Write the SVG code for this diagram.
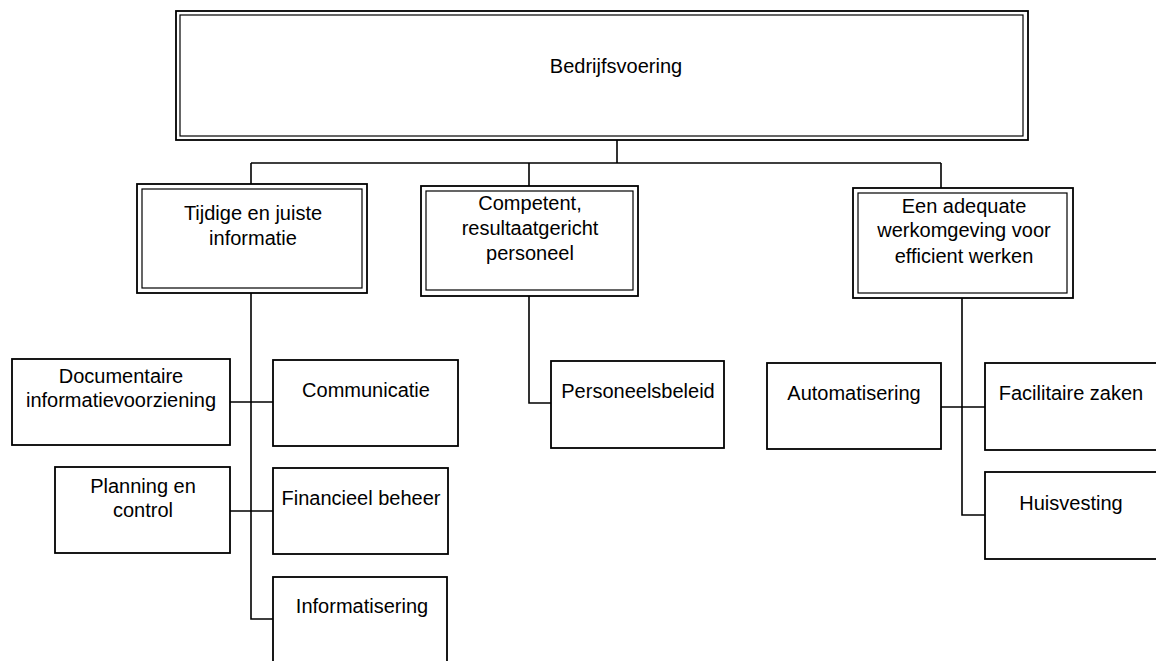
<svg xmlns="http://www.w3.org/2000/svg" width="1156" height="661" viewBox="0 0 1156 661">
<style>
.box{fill:#fff;stroke:#000;stroke-width:1.8}
.in{fill:none;stroke:#000;stroke-width:1.2}
.ln{fill:none;stroke:#000;stroke-width:1.6}
text{font-family:"Liberation Sans",Arial,sans-serif;font-size:20px;fill:#000;text-anchor:middle}
</style>
<rect width="1156" height="661" fill="#fff"/>
<g id="connectors">
<path class="ln" d="M617 140V163M251 163H941M251 163V184M529 163V186M941 163V188"/>
<path class="ln" d="M251 293V619H273M230 402H273M230 511H273"/>
<path class="ln" d="M529 296V403H551"/>
<path class="ln" d="M962 298V515H985M941 407H985"/>
</g>
<g id="bedrijfsvoering">
<rect class="box" x="176" y="11" width="852" height="129"/>
<rect class="in" x="180" y="15" width="843" height="121"/>
<text x="616" y="73">Bedrijfsvoering</text>
</g>
<g id="tijdige">
<rect class="box" x="137" y="184" width="230" height="109"/>
<rect class="in" x="142" y="189" width="220" height="99"/>
<text x="253" y="220">Tijdige en juiste</text>
<text x="253" y="245">informatie</text>
</g>
<g id="competent">
<rect class="box" x="421" y="186" width="217" height="110"/>
<rect class="in" x="426" y="191" width="207" height="99"/>
<text x="530" y="210">Competent,</text>
<text x="530" y="235">resultaatgericht</text>
<text x="530" y="260">personeel</text>
</g>
<g id="werkomgeving">
<rect class="box" x="853" y="188" width="220" height="110"/>
<rect class="in" x="858" y="193" width="209" height="100"/>
<text x="964" y="213">Een adequate</text>
<text x="964" y="237">werkomgeving voor</text>
<text x="964" y="263">efficient werken</text>
</g>
<g id="documentaire">
<rect class="box" x="12" y="359" width="218" height="86"/>
<text x="121" y="383">Documentaire</text>
<text x="121" y="407">informatievoorziening</text>
</g>
<g id="communicatie">
<rect class="box" x="273" y="360" width="185" height="86"/>
<text x="366" y="397">Communicatie</text>
</g>
<g id="planning">
<rect class="box" x="55" y="467" width="175" height="86"/>
<text x="143" y="493">Planning en</text>
<text x="143" y="517">control</text>
</g>
<g id="financieel">
<rect class="box" x="273" y="468" width="175" height="86"/>
<text x="361" y="505">Financieel beheer</text>
</g>
<g id="informatisering">
<rect class="box" x="273" y="577" width="174" height="100"/>
<text x="362" y="613">Informatisering</text>
</g>
<g id="personeelsbeleid">
<rect class="box" x="551" y="361" width="173" height="87"/>
<text x="638" y="398">Personeelsbeleid</text>
</g>
<g id="automatisering">
<rect class="box" x="767" y="363" width="174" height="86"/>
<text x="854" y="400">Automatisering</text>
</g>
<g id="facilitaire">
<rect class="box" x="985" y="363" width="180" height="87"/>
<text x="1071" y="400">Facilitaire zaken</text>
</g>
<g id="huisvesting">
<rect class="box" x="985" y="472" width="180" height="87"/>
<text x="1071" y="510">Huisvesting</text>
</g>
</svg>
